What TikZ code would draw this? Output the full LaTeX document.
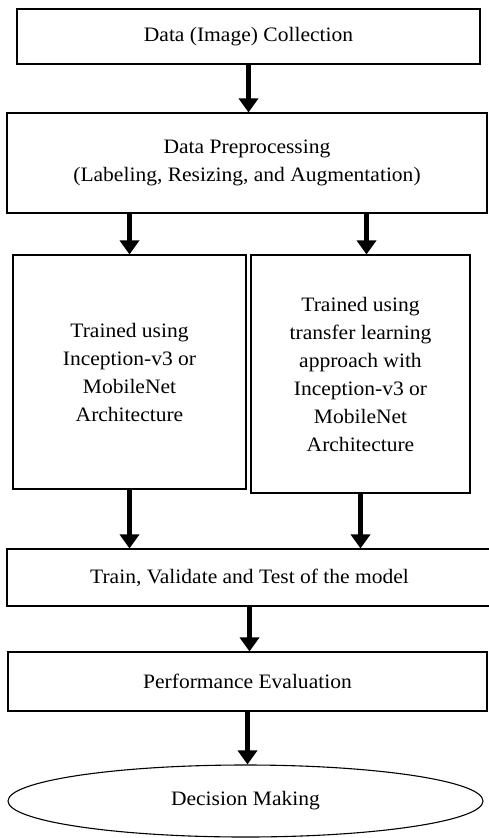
\documentclass[tikz,border=0pt]{standalone}
\usepackage{fontspec}
\setmainfont{Liberation Serif}[FakeStretch=1.05]
\usepackage{tikz}
\usetikzlibrary{shapes.geometric, calc, arrows.meta, positioning}
\tikzset{>={Triangle[width=19pt, length=14pt]}}

\begin{document}
\begin{tikzpicture}[
  x=1pt, y=-1pt,
  stage/.style={rectangle, draw=black, line width=1.1pt, align=center, font=\fontsize{20.5}{28}\selectfont, inner sep=2pt},
  outcome/.style={ellipse, draw=black, line width=1.1pt, font=\fontsize{20.5}{28}\selectfont, inner sep=0pt},
  flow/.style={->, line width=4.5pt, black}
]
\useasboundingbox (0,0) rectangle (489,838);

% Data collection and preprocessing
\node[stage, minimum width=463pt, minimum height=55pt] (collect) at (248.5,36.5) {Data (Image) Collection};
\node[stage, minimum width=480pt, minimum height=100pt] (prep) at (247,163) {Data Preprocessing\\(Labeling, Resizing, and Augmentation)};

% Two training branches
\node[stage, minimum width=233pt, minimum height=234pt] (scratch) at (129.5,372) {Trained using\\Inception-v3 or\\MobileNet\\Architecture};
\node[stage, minimum width=219pt, minimum height=238pt] (transfer) at (360.5,374) {Trained using\\transfer learning\\approach with\\Inception-v3 or\\MobileNet\\Architecture};

% Model testing, evaluation and decision
\node[stage, minimum width=485pt, minimum height=57pt] (test) at (249.5,577.5) {Train, Validate and Test of the model};
\node[stage, minimum width=479pt, minimum height=59pt] (eval) at (247.5,681.5) {Performance Evaluation};
\node[outcome, minimum width=475pt, minimum height=72pt] (decide) at (245.5,801) {Decision Making};

% Arrows between stages
\draw[flow] (collect.south) -- (collect.south |- prep.north);
\draw[flow] (scratch.north |- prep.south) -- (scratch.north);
\draw[flow] ([xshift=6pt]transfer.north |- prep.south) -- ([xshift=6pt]transfer.north);
\draw[flow] (scratch.south) -- (scratch.south |- test.north);
\draw[flow] (transfer.south) -- (transfer.south |- test.north);
\draw[flow] (test.south) -- (test.south |- eval.north);
\draw[flow] (eval.south) -- (eval.south |- decide.north);

\end{tikzpicture}
\end{document}
